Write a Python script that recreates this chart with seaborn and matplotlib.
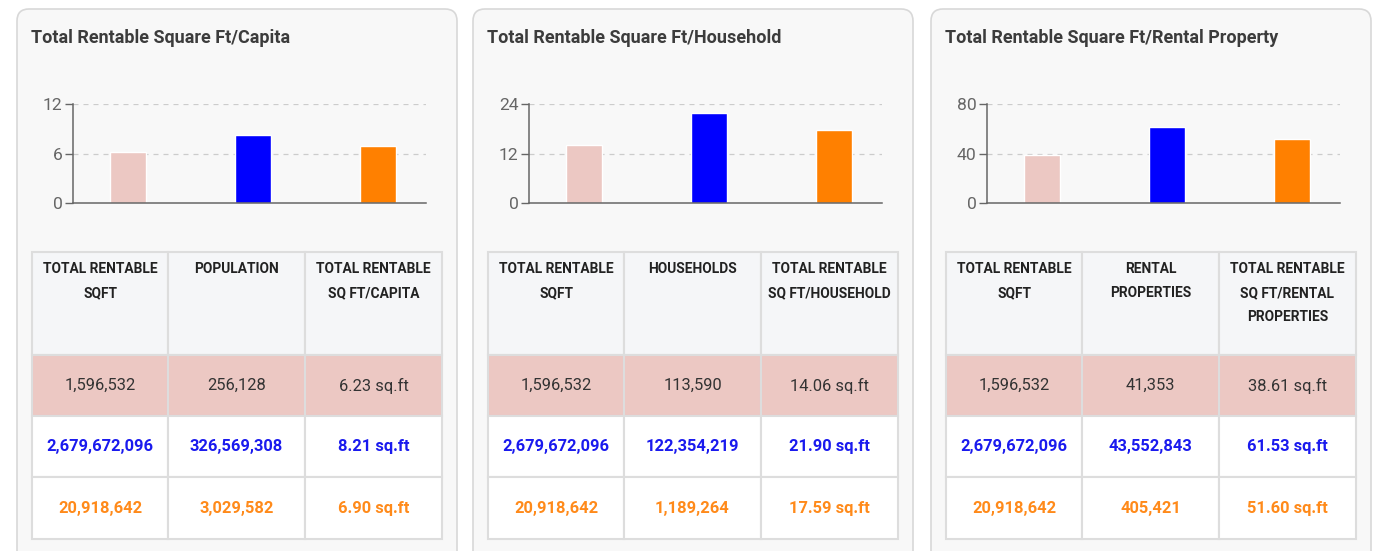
import matplotlib
matplotlib.use("Agg")
import matplotlib.pyplot as plt
from matplotlib.patches import FancyBboxPatch, Rectangle
import seaborn as sns

# data
groups = ["Local", "National", "State"]
bar_colors = ["#ecc8c3", "#0000ff", "#ff8000"]
text_colors = ["#333333", "#1a1aee", "#ff8a1a"]
text_weights = ["normal", "bold", "bold"]

total_sqft = [1596532, 2679672096, 20918642]
population = [256128, 326569308, 3029582]
households = [113590, 122354219, 1189264]
rental_properties = [41353, 43552843, 405421]

sqft_per_capita = [6.23, 8.21, 6.90]
sqft_per_household = [14.06, 21.90, 17.59]
sqft_per_rental = [38.61, 61.53, 51.60]

titles = ["Total Rentable Square Ft/Capita",
          "Total Rentable Square Ft/Household",
          "Total Rentable Square Ft/Rental Property"]
y_max = [12, 24, 80]
headers = [
    ["TOTAL RENTABLE\nSQFT", "POPULATION", "TOTAL RENTABLE\nSQ FT/CAPITA"],
    ["TOTAL RENTABLE\nSQFT", "HOUSEHOLDS", "TOTAL RENTABLE\nSQ FT/HOUSEHOLD"],
    ["TOTAL RENTABLE\nSQFT", "RENTAL\nPROPERTIES", "TOTAL RENTABLE\nSQ FT/RENTAL\nPROPERTIES"],
]
denominators = [population, households, rental_properties]
ratios = [sqft_per_capita, sqft_per_household, sqft_per_rental]

sns.set_theme(style="white")
plt.rcParams["font.family"] = ["Roboto", "DejaVu Sans"]

W, H = 1377, 551
fig = plt.figure(figsize=(W / 100, H / 100), dpi=100)
fig.patch.set_facecolor("white")

bg = fig.add_axes([0, 0, 1, 1])
bg.set_xlim(0, W)
bg.set_ylim(H, 0)
bg.axis("off")


def px_axes(x0, y0, x1, y1):
    return fig.add_axes([x0 / W, 1 - y1 / H, (x1 - x0) / W, (y1 - y0) / H])


card_left = [17, 473, 931]
col_edges = [0, 136, 273, 410]
row_edges = [252, 355, 416, 477, 539]
row_bg = ["#f5f6f8", "#ecc8c3", "#ffffff", "#ffffff"]
border = "#dddddd"

for i in range(3):
    L = card_left[i]
    bg.add_patch(FancyBboxPatch((L, 9), 440, 560, boxstyle="round,pad=0,rounding_size=12",
                                facecolor="#f8f8f8", edgecolor="#d8d8d8", lw=1.2, zorder=1))
    bg.text(L + 14, 38, titles[i], fontsize=13, fontweight="bold", color="#3c3c3c",
            va="center", ha="left", zorder=3)

    # bar chart
    ax = px_axes(L + 56, 104, L + 409, 203)
    ax.patch.set_alpha(0)
    sns.barplot(x=groups, y=ratios[i], hue=groups, palette=bar_colors, width=0.287,
                saturation=1, legend=False, ax=ax, zorder=3)
    ax.set_xlim(-0.44, 2.38)
    ax.set_ylim(0, y_max[i])
    ax.set_yticks([0, y_max[i] / 2, y_max[i]])
    ax.set_yticklabels([f"{v:g}" for v in [0, y_max[i] / 2, y_max[i]]])
    ax.set_xticks([])
    ax.set_xlabel("")
    ax.set_ylabel("")
    for v in [y_max[i] / 2, y_max[i]]:
        ax.axhline(v, color="#cccccc", lw=0.9, ls=(0, (4, 4)), zorder=1)
    for s in ["top", "right"]:
        ax.spines[s].set_visible(False)
    for s in ["left", "bottom"]:
        ax.spines[s].set_color("#666666")
        ax.spines[s].set_linewidth(1.1)
    ax.spines["bottom"].set_zorder(4)
    ax.tick_params(axis="y", length=5.5, width=1, color="#666666", labelcolor="#666666",
                   labelsize=12.6, pad=2, left=True)

    # table
    tx = L + 15
    cols = [
        [f"{v:,}" for v in total_sqft],
        [f"{v:,}" for v in denominators[i]],
        [f"{v:.2f} sq.ft" for v in ratios[i]],
    ]
    for r in range(4):
        y0, y1 = row_edges[r], row_edges[r + 1]
        for c in range(3):
            x0, x1 = tx + col_edges[c], tx + col_edges[c + 1]
            bg.add_patch(Rectangle((x0, y0), x1 - x0, y1 - y0, facecolor=row_bg[r],
                                   edgecolor=border, lw=1.5, zorder=2))
            if r == 0:
                for k, line in enumerate(headers[i][c].split("\n")):
                    bg.text((x0 + x1) / 2, 269 + 24 * k, line, fontsize=9.9,
                            fontweight="bold", color="#222222", ha="center", va="center", zorder=3)
            else:
                bg.text((x0 + x1) / 2, (y0 + y1) / 2, cols[c][r - 1], fontsize=11.9,
                        fontweight=text_weights[r - 1], color=text_colors[r - 1],
                        ha="center", va="center", zorder=3)

fig.savefig("out.png", dpi=100, facecolor="white")
